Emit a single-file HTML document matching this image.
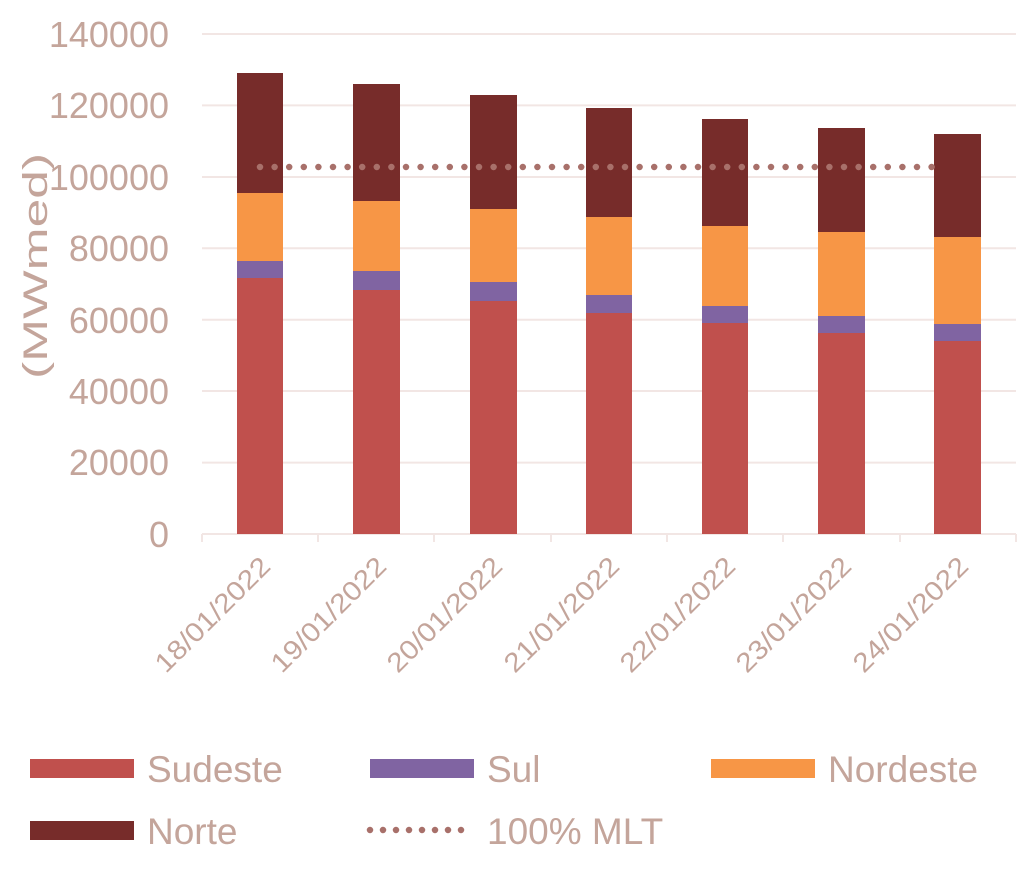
<!DOCTYPE html>
<html><head><style>body{margin:0;background:#fff}svg{display:block}</style></head><body>
<svg width="1024" height="872" xmlns="http://www.w3.org/2000/svg" font-family="Liberation Sans, sans-serif" fill="#c4a59b">
<g stroke="#f2e6e4" stroke-width="2">
<line x1="202" x2="1016" y1="34" y2="34"/><line x1="202" x2="1016" y1="105.4" y2="105.4"/><line x1="202" x2="1016" y1="177" y2="177"/><line x1="202" x2="1016" y1="248.3" y2="248.3"/><line x1="202" x2="1016" y1="319.7" y2="319.7"/><line x1="202" x2="1016" y1="391" y2="391"/><line x1="202" x2="1016" y1="462.6" y2="462.6"/>
<line x1="202" x2="1016" y1="534" y2="534"/>
<line x1="202" x2="202" y1="534" y2="542"/><line x1="318" x2="318" y1="534" y2="542"/><line x1="434" x2="434" y1="534" y2="542"/><line x1="551" x2="551" y1="534" y2="542"/><line x1="667" x2="667" y1="534" y2="542"/><line x1="783" x2="783" y1="534" y2="542"/><line x1="900" x2="900" y1="534" y2="542"/><line x1="1016" x2="1016" y1="534" y2="542"/>
</g>
<g font-size="36" text-anchor="end">
<text x="169" y="47">140000</text><text x="169" y="118">120000</text><text x="169" y="190">100000</text><text x="169" y="261">80000</text><text x="169" y="333">60000</text><text x="169" y="404">40000</text><text x="169" y="475">20000</text><text x="169" y="547">0</text>
</g>
<text font-size="34" transform="translate(47,266) rotate(-90)" text-anchor="middle" textLength="226" lengthAdjust="spacingAndGlyphs">(MWmed)</text>
<g id="bars">
<rect x="237" y="278" width="46" height="256" fill="#c0504d"/><rect x="237" y="261" width="46" height="17" fill="#8064a2"/><rect x="237" y="193" width="46" height="68" fill="#f79646"/><rect x="237" y="73" width="46" height="120" fill="#772c2a"/>
<rect x="353" y="290" width="47" height="244" fill="#c0504d"/><rect x="353" y="271" width="47" height="19" fill="#8064a2"/><rect x="353" y="201" width="47" height="70" fill="#f79646"/><rect x="353" y="84" width="47" height="117" fill="#772c2a"/>
<rect x="470" y="301" width="47" height="233" fill="#c0504d"/><rect x="470" y="282" width="47" height="19" fill="#8064a2"/><rect x="470" y="209" width="47" height="73" fill="#f79646"/><rect x="470" y="95" width="47" height="114" fill="#772c2a"/>
<rect x="586" y="313" width="46" height="221" fill="#c0504d"/><rect x="586" y="295" width="46" height="18" fill="#8064a2"/><rect x="586" y="217" width="46" height="78" fill="#f79646"/><rect x="586" y="108" width="46" height="109" fill="#772c2a"/>
<rect x="702" y="323" width="46" height="211" fill="#c0504d"/><rect x="702" y="306" width="46" height="17" fill="#8064a2"/><rect x="702" y="226" width="46" height="80" fill="#f79646"/><rect x="702" y="119" width="46" height="107" fill="#772c2a"/>
<rect x="818" y="333" width="47" height="201" fill="#c0504d"/><rect x="818" y="316" width="47" height="17" fill="#8064a2"/><rect x="818" y="232" width="47" height="84" fill="#f79646"/><rect x="818" y="128" width="47" height="104" fill="#772c2a"/>
<rect x="934" y="341" width="47" height="193" fill="#c0504d"/><rect x="934" y="324" width="47" height="17" fill="#8064a2"/><rect x="934" y="237" width="47" height="87" fill="#f79646"/><rect x="934" y="134" width="47" height="103" fill="#772c2a"/>
</g>
<line x1="260" x2="946" y1="167" y2="167" stroke="#a8706a" stroke-width="6.5" stroke-linecap="round" stroke-dasharray="0 14.6"/>
<g font-size="27" text-anchor="end">
<text transform="translate(272,568) rotate(-45)" textLength="150" lengthAdjust="spacingAndGlyphs">18/01/2022</text>
<text transform="translate(388,568) rotate(-45)" textLength="150" lengthAdjust="spacingAndGlyphs">19/01/2022</text>
<text transform="translate(504,568) rotate(-45)" textLength="150" lengthAdjust="spacingAndGlyphs">20/01/2022</text>
<text transform="translate(621,568) rotate(-45)" textLength="150" lengthAdjust="spacingAndGlyphs">21/01/2022</text>
<text transform="translate(737,568) rotate(-45)" textLength="150" lengthAdjust="spacingAndGlyphs">22/01/2022</text>
<text transform="translate(853,568) rotate(-45)" textLength="150" lengthAdjust="spacingAndGlyphs">23/01/2022</text>
<text transform="translate(970,568) rotate(-45)" textLength="150" lengthAdjust="spacingAndGlyphs">24/01/2022</text>
</g>
<g font-size="37">
<rect x="30" y="759" width="104" height="19" fill="#c0504d"/><text x="147" y="782">Sudeste</text>
<rect x="370" y="759" width="104" height="19" fill="#8064a2"/><text x="487" y="782">Sul</text>
<rect x="711" y="759" width="104" height="19" fill="#f79646"/><text x="828" y="782">Nordeste</text>
<rect x="30" y="821" width="104" height="19" fill="#772c2a"/><text x="147" y="844">Norte</text>
<line x1="370" x2="474" y1="830" y2="830" stroke="#a8706a" stroke-width="6.5" stroke-linecap="round" stroke-dasharray="0 13"/>
<text x="487" y="844">100% MLT</text>
</g>
</svg>
</body></html>
